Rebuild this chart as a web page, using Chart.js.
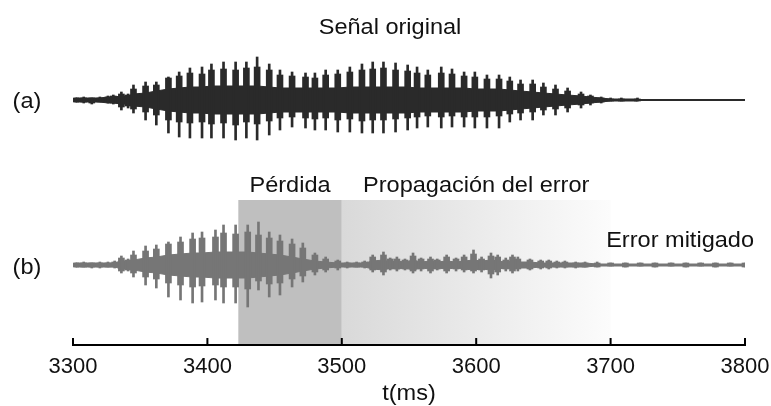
<!DOCTYPE html>
<html>
<head>
<meta charset="utf-8">
<script src="https://cdn.jsdelivr.net/npm/chart.js@4.4.0/dist/chart.umd.min.js"></script>
<style>
  html, body { margin: 0; padding: 0; background: #fff; }
</style>
</head>
<body>
<canvas id="myChart" width="771" height="406"></canvas>
<script>
// time axis (ms)
const tickValues = [3300, 3400, 3500, 3600, 3700, 3800];
const lossSpan = [3423, 3500];        // Pérdida
const propSpan = [3500, 3700];        // Propagación del error
const shadeTop = 65;                  // top of the shaded band, (b) amplitude units

// (a) señal original: pulse times, spike top/bottom, body block top/bottom, dense core
const tA = [3302,3308,3314,3320,3326,3330,3336,3341,3345,3354,3362,3371,3379,3387,3396,3403,3412,3421,3429,3437,3446,3454,3463,3473,3480,3488,3497,3506,3515,3523,3531,3540,3549,3556,3564,3574,3582,3591,3599,3608,3617,3625,3633,3642,3650,3659,3668,3678,3685,3693,3700,3708,3720];
const hiA = [2,3,2,3,4,5, 8,6,15,18,18, 23,28,32,33,36, 38,38,38,43,36, 30,28,27,27,30, 30,33,36,38,38, 37,35,33,30,33, 31,28,28,25,25, 23,20,20,17,15, 12,8,5,3,2, 2,2];
const loA = [-2,-3,-4,-2,-3,-4, -10,-8,-13,-20,-25, -33,-37,-38,-38,-38, -38,-40,-38,-40,-35, -30,-27,-28,-30,-30, -32,-32,-33,-33,-33, -32,-30,-28,-27,-28, -27,-27,-28,-28,-28, -22,-20,-20,-15,-15, -12,-8,-5,-3,-1, -1,-1];
const bodyHiA = [2,2,2,2,3,4, 6,5,11,14,15, 22,24,27,26,30, 31,30,32,33,30, 25,24,23,22,25, 26,28,30,31,32, 30,29,27,25,27, 26,24,23,21,21, 19,16,16,13,11, 9,6,4,2,1, 1,1];
const bodyLoA = [-2,-2,-3,-2,-2,-3, -7,-6,-9,-12,-15, -20,-22,-23,-22,-24, -23,-25,-22,-24,-21, -18,-17,-18,-19,-18, -20,-19,-21,-20,-20, -19,-18,-17,-16,-17, -16,-17,-17,-17,-16, -14,-13,-12,-10,-9, -8,-5,-3,-2,-1, -1,-1];
const coreA = [2,2,2,2,3,3, 4,4,6,7,9, 11,12,13,13,14, 14,14,14,14,13, 12,12,12,12,12, 12,13,13,13,13, 13,13,12,12,12, 12,12,11,11,11, 10,9,8,7,6, 5,4,3,2,1, 1,1];

// (b) señal con pérdida
const tB = [3302,3308,3314,3320,3326,3331,3336,3341,3345,3354,3362,3371,3380,3389,3396,3406,3412,3421,3430,3438,3446,3454,3463,3471,3480,3488,3497,3504,3511,3517,3523,3531,3536,3541,3547,3553,3559,3566,3571,3578,3585,3591,3598,3604,3611,3616,3622,3627,3631,3640,3648,3654,3660,3666,3674,3681,3690,3700,3711,3722,3733,3745,3756,3767,3778,3789,3800];
const hiB = [2,3,2,3,3,4, 9,6,14,19,20, 23,28,32,33,35, 40,40,40,43,33, 30,26,22,12,8, 5,3,3,4,10, 13,7,8,6,12, 7,8,6,10,7, 10,15,8,12,10, 7,10,8,6,5, 5,4,4,3,3, 3,2,2,2,2, 2,2,2,2,2, 2];
const loB = [-2,-2,-3,-3,-2,-3, -8,-6,-12,-20,-23, -32,-35,-38,-37,-35, -38,-38,-42,-25,-32, -30,-22,-17,-10,-7, -5,-3,-2,-3,-7, -10,-5,-6,-5,-8, -6,-8,-5,-8,-6, -7,-8,-7,-13,-10, -6,-8,-6,-5,-4, -4,-3,-3,-3,-2, -2,-1,-2,-1,-2, -1,-2,-1,-2,-1, -2];
const bodyHiB = [2,2,2,2,2,3, 7,5,10,14,16, 21,23,26,27,28, 32,31,33,30,27, 24,21,17,10,6, 4,2,2,3,8, 10,6,6,5,9, 6,6,5,8,6, 8,11,6,9,8, 5,8,6,5,4, 4,3,3,2,2, 2,2,2,2,2, 2,2,2,2,2, 2];
const bodyLoB = [-2,-2,-2,-2,-2,-2, -6,-5,-8,-12,-14, -18,-20,-22,-21,-20, -22,-22,-24,-16,-19, -18,-14,-11,-7,-5, -3,-2,-2,-2,-5, -7,-4,-4,-4,-6, -4,-6,-4,-6,-4, -5,-6,-5,-9,-7, -4,-6,-4,-4,-3, -3,-2,-2,-2,-2, -2,-1,-2,-1,-2, -1,-2,-1,-2,-1, -2];
const coreB = [2,2,2,2,2,2, 4,4,5,7,8, 10,11,12,12,13, 13,13,13,12,11, 10,8,6,4,3, 2,2,2,2,4, 5,3,4,3,5, 3,4,3,4,3, 4,5,4,5,4, 3,4,3,3,2, 2,2,2,2,2, 1,1,1,1,1, 1,1,1,1,1, 1];

const colA = '#2a2a2a';
const colB = '#767676';
const font = '"Liberation Sans", Arial, sans-serif';

function bars(t, lo, hi) { return t.map((x, i) => ({ x: x, y: [lo[i], hi[i]] })); }
function line(t, v, sign) { return t.map((x, i) => ({ x: x, y: sign * v[i] })); }
const flat = [{ x: tickValues[0], y: 0 }, { x: tickValues[tickValues.length - 1], y: 0 }];

function waveSets(w, color, axis) {
  return [
    { type: 'bar', data: bars(w.t, w.lo, w.hi), backgroundColor: color, barThickness: 2, grouped: false, yAxisID: axis },
    { type: 'bar', data: bars(w.t, w.bodyLo, w.bodyHi), backgroundColor: color, barThickness: 6, grouped: false, yAxisID: axis },
    { type: 'line', data: line(w.t, w.core, 1), borderColor: color, borderWidth: 1, pointRadius: 0, tension: 0, fill: false, yAxisID: axis },
    { type: 'line', data: line(w.t, w.core, -1), borderColor: color, borderWidth: 1, pointRadius: 0, tension: 0, fill: '-1', backgroundColor: color, yAxisID: axis },
    { type: 'line', data: flat, borderColor: color, borderWidth: 2, pointRadius: 0, fill: false, yAxisID: axis }
  ];
}

function label(ctx, str, x, y, align) {
  ctx.save();
  ctx.translate(x, y);
  ctx.scale(1.07, 1);
  ctx.textAlign = align || 'center';
  ctx.fillText(str, 0, 0);
  ctx.restore();
}

const decor = {
  id: 'decor',
  beforeDatasetsDraw(chart) {
    const { ctx, chartArea, scales } = chart;
    const x = scales.x;
    const top = scales.yB.getPixelForValue(shadeTop);
    const bottom = chartArea.bottom;
    ctx.save();
    const l0 = x.getPixelForValue(lossSpan[0]), l1 = x.getPixelForValue(lossSpan[1]);
    ctx.fillStyle = '#bfbfbf';
    ctx.fillRect(l0, top, l1 - l0, bottom - top);
    const p0 = x.getPixelForValue(propSpan[0]), p1 = x.getPixelForValue(propSpan[1]);
    const g = ctx.createLinearGradient(p0, 0, p1, 0);
    g.addColorStop(0, '#d9d9d9');
    g.addColorStop(1, '#fcfcfc');
    ctx.fillStyle = g;
    ctx.fillRect(p0, top, p1 - p0, bottom - top);
    ctx.restore();
  },
  afterDraw(chart) {
    const { ctx, chartArea, scales } = chart;
    const x = scales.x;
    const y0 = chartArea.bottom;
    ctx.save();
    // axis line with inward ticks
    ctx.strokeStyle = '#000';
    ctx.lineWidth = 2;
    ctx.beginPath();
    ctx.moveTo(x.getPixelForValue(tickValues[0]) - 1, y0);
    ctx.lineTo(x.getPixelForValue(tickValues[tickValues.length - 1]) + 1, y0);
    tickValues.forEach(v => {
      const px = x.getPixelForValue(v);
      ctx.moveTo(px, y0);
      ctx.lineTo(px, y0 - 7);
    });
    ctx.stroke();
    // texts
    ctx.fillStyle = '#111';
    ctx.font = '22px ' + font;
    ctx.textBaseline = 'alphabetic';
    label(ctx, 'Señal original', 390, 34);
    label(ctx, '(a)', 27, 108);
    label(ctx, '(b)', 27, 274);
    label(ctx, 'Pérdida', x.getPixelForValue((lossSpan[0] + lossSpan[1]) / 2), 192);
    label(ctx, 'Propagación del error', x.getPixelForValue((propSpan[0] + propSpan[1]) / 2), 192);
    label(ctx, 't(ms)', (chartArea.left + chartArea.right) / 2, 400);
    label(ctx, 'Error mitigado', 754, 247, 'right');
    ctx.restore();
  }
};

const ctx = document.getElementById('myChart');
const chart = new Chart(ctx, {
  type: 'bar',
  data: {
    datasets: [
      ...waveSets({ t: tA, lo: loA, hi: hiA, bodyLo: bodyLoA, bodyHi: bodyHiA, core: coreA }, colA, 'yA'),
      ...waveSets({ t: tB, lo: loB, hi: hiB, bodyLo: bodyLoB, bodyHi: bodyHiB, core: coreB }, colB, 'yB')
    ]
  },
  options: {
    responsive: false,
    animation: false,
    devicePixelRatio: 1,
    layout: { padding: { left: 73, right: 26, top: 45, bottom: 0 } },
    plugins: { legend: { display: false }, tooltip: { enabled: false } },
    scales: {
      x: {
        type: 'linear',
        min: tickValues[0],
        max: tickValues[tickValues.length - 1],
        offset: false,
        grid: { display: false, offset: false },
        border: { display: false },
        afterBuildTicks: s => { s.ticks = tickValues.map(v => ({ value: v })); },
        afterFit: s => { s.height = 61; },
        ticks: { color: '#111', padding: 1, maxRotation: 0, font: { size: 22, family: font }, callback: v => String(v) }
      },
      yA: { display: false, min: -245, max: 55 },
      yB: { display: false, min: -80, max: 220 }
    }
  },
  plugins: [decor]
});
</script>
</body>
</html>
